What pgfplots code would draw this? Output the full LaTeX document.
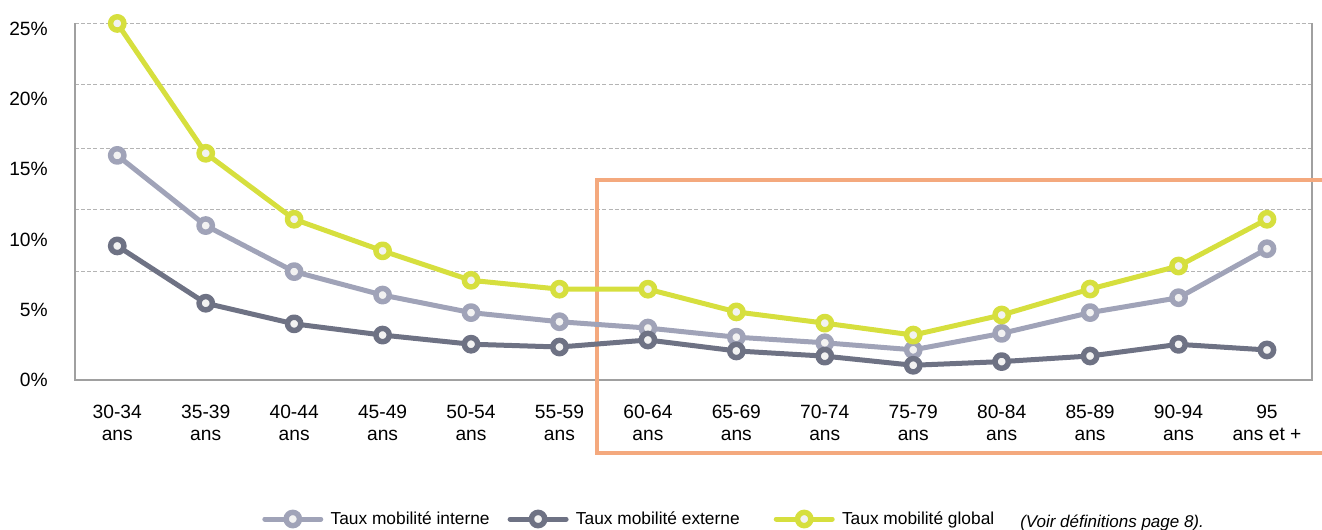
\documentclass[border=0pt]{standalone}
\usepackage{fontspec}
\setmainfont{Liberation Sans}
\usepackage{pgfplots}
\pgfplotsset{compat=1.18}

\definecolor{cglobal}{HTML}{D6DF3E}
\definecolor{cinterne}{HTML}{A0A3B8}
\definecolor{cexterne}{HTML}{6E7284}
\definecolor{cbox}{HTML}{F4A97E}
\definecolor{cgrid}{HTML}{B4B4B4}
\definecolor{caxis}{HTML}{A0A0A0}
\definecolor{cfill}{HTML}{F2F2F2}

\pgfplotsset{
  serie/.style={draw=#1, line width=3.75pt, line join=round, mark=*,
    mark size=5pt, mark options={draw=#1, fill=cfill, line width=4.1pt}},
}

% Taux de mobilite par tranche d'age (en %)
\pgfplotstableread{
x interne externe global
0  16.0  9.55 25.4
1  11.0  5.47 16.15
2   7.72 4.0  11.45
3   6.05 3.2   9.2
4   4.8  2.55  7.1
5   4.15 2.35  6.47
6   3.7  2.85  6.47
7   3.05 2.07  4.85
8   2.65 1.7   4.05
9   2.15 1.05  3.2
10  3.32 1.31  4.63
11  4.8  1.71  6.48
12  5.86 2.54  8.12
13  9.35 2.14 11.45
}\mobilite

\begin{document}
\begin{tikzpicture}
\begin{axis}[
  scale only axis, width=927.75pt, height=267.75pt,
  xmin=-0.478, xmax=13.509, ymin=0, ymax=25.43,
  axis line style={draw=none},
  clip=false,
  xtick={0,...,13},
  xticklabels={{30-34\\ans},{35-39\\ans},{40-44\\ans},{45-49\\ans},{50-54\\ans},
    {55-59\\ans},{60-64\\ans},{65-69\\ans},{70-74\\ans},{75-79\\ans},{80-84\\ans},
    {85-89\\ans},{90-94\\ans},{95\\ans et +}},
  xticklabel style={align=center, anchor=north, inner sep=0pt, yshift=-18.75pt,
    font=\fontsize{14.4}{16.5}\selectfont},
  ytick={0,5,10,15,20,25},
  yticklabels={0\%,5\%,10\%,15\%,20\%,25\%},
  yticklabel style={anchor=east, inner sep=0pt, xshift=-20.25pt,
    font=\fontsize{14.4}{16.5}\selectfont},
  major tick length=0pt,
  extra y ticks={7.76,12.11,16.52,21.08,25.43},
  extra y tick labels={},
  extra y tick style={grid=major},
  major grid style={cgrid, line width=0.75pt, dash pattern=on 3pt off 1.6pt},
  legend columns=3,
  legend cell align=left,
  legend style={at={(0.1512,-0.3894)}, anchor=west, draw=none, fill=none,
    inner sep=0pt, font=\fontsize{13}{15}\selectfont,
    /tikz/every odd column/.style={column sep=3.5pt},
    /tikz/column 2/.style={column sep=11.5pt},
    /tikz/column 4/.style={column sep=23.5pt}},
  legend image code/.code={
    \draw[#1, line cap=round, mark repeat=2, mark phase=2]
      plot coordinates {(0pt,0pt) (21pt,0pt) (42pt,0pt)};},
]
  % cadre de l'axe (gauche, bas, droite)
  \draw[caxis, line width=0.9pt] (rel axis cs:0,1) -- (rel axis cs:0,0)
    -- (rel axis cs:1,0) -- (rel axis cs:1,1);
  % encadre des 60 ans et plus
  \draw[cbox, line width=2.5pt] (axis cs:14.2,14.245) -- (axis cs:5.424,14.245)
    -- (axis cs:5.424,-5.2) -- (axis cs:14.2,-5.2);

  \addplot[serie=cinterne] table[x=x, y=interne] {\mobilite};
  \addlegendentry{Taux mobilité interne}
  \addplot[serie=cexterne] table[x=x, y=externe] {\mobilite};
  \addlegendentry{Taux mobilité externe}
  \addplot[serie=cglobal] table[x=x, y=global] {\mobilite};
  \addlegendentry{Taux mobilité global}
\end{axis}
\node[anchor=base west, inner sep=0pt, font=\itshape\fontsize{12.75}{15}\selectfont]
  at (708.75pt,-110.25pt) {(Voir définitions page 8).};
\pgfresetboundingbox
\path[use as bounding box] (-56.25pt,-111.75pt) rectangle (935.25pt,285pt);
\end{tikzpicture}
\end{document}
